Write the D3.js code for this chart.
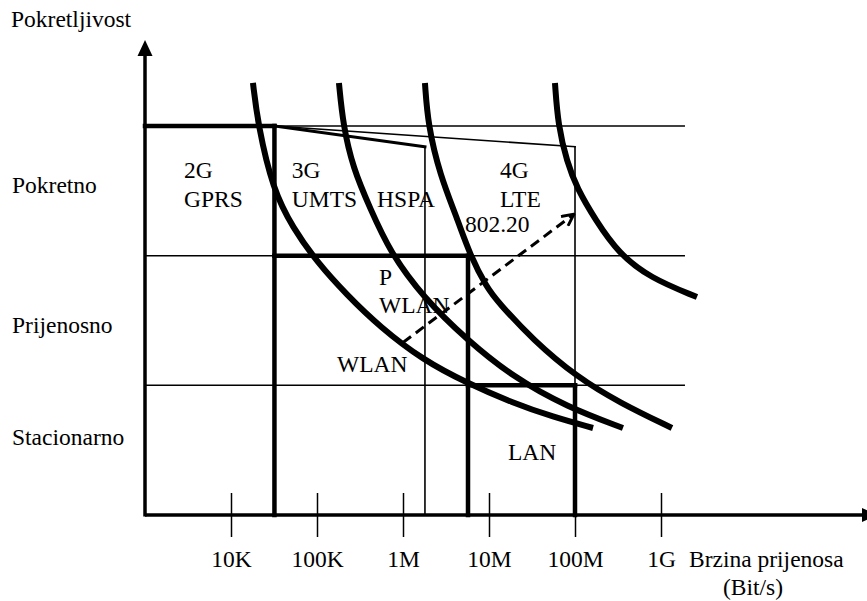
<!DOCTYPE html>
<html>
<head>
<meta charset="utf-8">
<script src="https://cdn.jsdelivr.net/npm/d3@7"></script>
<style>
  body { margin: 0; background: #fff; }
</style>
</head>
<body>
<svg id="chart" width="867" height="601"></svg>
<script>
// tick labels on the bit-rate axis
var rateTicks = [1e4, 1e5, 1e6, 1e7, 1e8, 1e9];
var rateLabels = ["10K", "100K", "1M", "10M", "100M", "1G"];

// mobility levels (0 = axis, 3 = top band line)
var gridLevels = [1, 2, 3];
var mobilityNames = ["Stacionarno", "Prijenosno", "Pokretno"];
var mobilityLabelLevels = [0.6, 1.46, 2.54];

// technology boxes [rate1, level1, rate2, level2]
var thickSegments = [
  [1e3, 3, 3.2e4, 3],
  [3.2e4, 0, 3.2e4, 3],
  [3.2e4, 2, 5.7e6, 2],
  [5.7e6, 0, 5.7e6, 2],
  [5.7e6, 1, 1e8, 1],
  [1e8, 0, 1e8, 1]
];
var mediumSegments = [
  [3.2e4, 3, 1.8e6, 2.84]
];
var thinSegments = [
  [1.8e6, 0, 1.8e6, 2.84],
  [3.2e4, 3, 1e8, 2.84],
  [1e8, 1, 1e8, 2.84]
];

// the four capacity curves [rate, level]
var curve1 = [[1.8e4, 3.332], [2.06e4, 3.008], [3.08e4, 2.506], [5.26e4, 2.213], [1.0e5, 1.951], [2.23e5, 1.697],
              [5.41e5, 1.45], [1.71e6, 1.195], [5.55e6, 1.018], [1.9e7, 0.864], [5.55e7, 0.756], [1.62e8, 0.671]];
var curve2 = [[1.8e5, 3.332], [2.01e5, 3.008], [2.62e5, 2.676], [4.13e5, 2.368], [7.06e5, 2.028], [1.71e6, 1.681],
              [5.55e6, 1.35], [1.9e7, 1.064], [8.07e7, 0.833], [3.61e8, 0.671]];
var curve3 = [[1.8e6, 3.332], [1.95e6, 3.008], [2.69e6, 2.622], [4.25e6, 2.29], [6.01e6, 2.005], [9.48e6, 1.751],
              [1.27e7, 1.643], [3.25e7, 1.35], [1.05e8, 1.064], [3.34e8, 0.864], [1.34e9, 0.671]];
var curve4 = [[5.85e7, 3.332], [6.34e7, 3.008], [8.07e7, 2.722], [1.05e8, 2.522], [1.75e8, 2.27], [3.2e8, 2.02],
              [7.45e8, 1.828], [2.62e9, 1.681]];

// dashed migration arrow
var migration = [[1.0e6, 1.33], [9.7e7, 2.32]];

// labels inside the chart [text, rate, level]
var boxLabels = [
  ["2G", 2.84e3, 2.654], ["GPRS", 2.84e3, 2.431],
  ["3G", 5.1e4, 2.654], ["UMTS", 5.1e4, 2.431],
  ["HSPA", 5.0e5, 2.431],
  ["4G", 1.34e7, 2.654], ["LTE", 1.34e7, 2.431], ["802.20", 5.25e6, 2.238],
  ["P", 5.26e5, 1.829], ["WLAN", 5.26e5, 1.613],
  ["WLAN", 1.71e5, 1.158],
  ["LAN", 1.66e7, 0.48]
];

var svg = d3.select("#chart");
var fs = 23.5;
var serif = "'Liberation Serif', 'Times New Roman', Tinos, 'DejaVu Serif', serif";

var x = d3.scaleLog().domain([1e3, 1e9]).range([145, 661]);
var y = d3.scaleLinear().domain([0, 3]).range([515, 126]);

// thin horizontal band lines
svg.selectAll(".grid")
  .data(gridLevels)
  .join("line")
  .attr("class", "grid")
  .attr("x1", x(1e3)).attr("x2", x(1.9e9))
  .attr("y1", d => y(d)).attr("y2", d => y(d))
  .attr("stroke", "#000").attr("stroke-width", 1.5);

function drawSegs(data, w) {
  svg.append("g").selectAll("line")
    .data(data)
    .join("line")
    .attr("x1", d => x(d[0])).attr("y1", d => y(d[1]))
    .attr("x2", d => x(d[2])).attr("y2", d => y(d[3]))
    .attr("stroke", "#000").attr("stroke-width", w)
    .attr("stroke-linecap", "square");
}
drawSegs(thinSegments, 1.6);
drawSegs(mediumSegments, 3);
drawSegs(thickSegments, 4.5);

// curves
var line = d3.line()
  .x(d => x(d[0])).y(d => y(d[1]))
  .curve(d3.curveBasis);

svg.append("g").selectAll("path")
  .data([curve1, curve2, curve3, curve4])
  .join("path")
  .attr("d", line)
  .attr("fill", "none")
  .attr("stroke", "#000")
  .attr("stroke-width", 6);

// dashed arrow
svg.append("defs").append("marker")
  .attr("id", "open")
  .attr("viewBox", "0 0 12 12")
  .attr("refX", 11).attr("refY", 6)
  .attr("markerWidth", 14).attr("markerHeight", 14)
  .attr("markerUnits", "userSpaceOnUse")
  .attr("orient", "auto")
  .append("path")
  .attr("d", "M1,1 L11,6 L1,11")
  .attr("fill", "none").attr("stroke", "#000").attr("stroke-width", 2.5);

svg.append("path")
  .attr("d", d3.line().x(d => x(d[0])).y(d => y(d[1]))(migration))
  .attr("stroke", "#000").attr("stroke-width", 3)
  .attr("stroke-dasharray", "10,6")
  .attr("fill", "none")
  .attr("marker-end", "url(#open)");

// x axis
var xAxis = d3.axisBottom(x)
  .tickValues(rateTicks)
  .tickFormat((d, i) => rateLabels[i])
  .tickSizeOuter(0);
var gx = svg.append("g")
  .attr("transform", "translate(0," + y(0) + ")")
  .call(xAxis);
gx.select(".domain").remove();
gx.selectAll(".tick line")
  .attr("y1", -22).attr("y2", 22)
  .attr("stroke", "#000").attr("stroke-width", 1.5);
gx.selectAll(".tick text")
  .attr("y", 52).attr("dy", 0)
  .attr("fill", "#000")
  .style("font-family", serif)
  .style("font-size", fs + "px");

// axis lines with arrowheads
svg.append("line")
  .attr("x1", x(1e3)).attr("y1", y(0))
  .attr("x2", 862).attr("y2", y(0))
  .attr("stroke", "#000").attr("stroke-width", 3.5);
svg.append("path")
  .attr("d", "M862," + (y(0) - 7) + "L877," + y(0) + "L862," + (y(0) + 7) + "Z")
  .attr("fill", "#000");

svg.append("line")
  .attr("x1", x(1e3)).attr("y1", y(0) + 1.5)
  .attr("x2", x(1e3)).attr("y2", 55)
  .attr("stroke", "#000").attr("stroke-width", 3.5);
svg.append("path")
  .attr("d", "M" + (x(1e3) - 7.5) + ",56L" + x(1e3) + ",40L" + (x(1e3) + 7.5) + ",56Z")
  .attr("fill", "#000");

// all free text in one group so it gets the serif face
var tg = svg.append("g");

function txt(sel) {
  return sel.style("font-family", serif).style("font-size", fs + "px").attr("fill", "#000");
}

// mobility labels
txt(tg.selectAll(".mob")
  .data(mobilityNames)
  .join("text")
  .attr("class", "mob")
  .attr("x", 12)
  .attr("y", (d, i) => y(mobilityLabelLevels[i]))
  .attr("dy", "0.32em")
  .text(d => d));

// box labels
txt(tg.selectAll(".lbl")
  .data(boxLabels)
  .join("text")
  .attr("class", "lbl")
  .attr("x", d => x(d[1]))
  .attr("y", d => y(d[2]))
  .attr("dy", "0.32em")
  .text(d => d[0]));

// axis titles
txt(tg.append("text").attr("x", 11).attr("y", 27).text("Pokretljivost"));
txt(tg.append("text").attr("x", 689).attr("y", 567).text("Brzina prijenosa"));
txt(tg.append("text").attr("x", 753).attr("y", 595)
  .attr("text-anchor", "middle").text("(Bit/s)"));
</script>
</body>
</html>
